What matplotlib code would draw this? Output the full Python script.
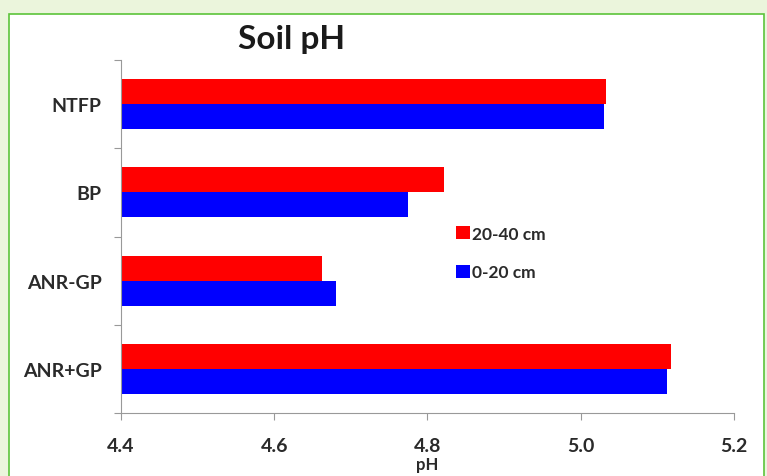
import matplotlib
matplotlib.use("Agg")
import matplotlib.pyplot as plt
from matplotlib.patches import Rectangle
import numpy as np

categories = ["ANR+GP", "ANR-GP", "BP", "NTFP"]
ph_20_40 = [5.118, 4.662, 4.822, 5.033]
ph_0_20 = [5.112, 4.680, 4.775, 5.030]
series_labels = ["20-40 cm", "0-20 cm"]
xticks = [4.4, 4.6, 4.8, 5.0, 5.2]
xtick_labels = ["4.4", "4.6", "4.8", "5.0", "5.2"]

plt.rcParams['font.family'] = ['Lato', 'DejaVu Sans']
txt = '#2a2a2a'

fig = plt.figure(figsize=(7.67, 4.77), dpi=100)
fig.patch.set_facecolor('#ebf5dc')
fig.patches.append(Rectangle((9/767, -0.1), (764-9)/767, 1 - 15/477 + 0.1,
                             transform=fig.transFigure, facecolor='white',
                             edgecolor='#5cc43a', linewidth=1.2, zorder=-10))

ax = fig.add_axes([121/767, 1 - 414/477, (734-121)/767, (414-61)/477])
ax.set_facecolor('none')
y = np.arange(len(categories))
h = 0.284
ax.barh(y + h/2, ph_20_40, height=h, color='#ff0000', label=series_labels[0])
ax.barh(y - h/2, ph_0_20, height=h, color='#0000ff', label=series_labels[1])

ax.set_xlim(4.4, 5.2)
ax.set_ylim(-0.5, len(categories) - 0.5)
ax.set_xticks(xticks)
ax.set_xticklabels(xtick_labels, fontweight='bold')
ax.set_yticks(np.arange(-0.5, len(categories), 1.0))
ax.set_yticklabels([])
ax.set_yticks(y, minor=True)
ax.set_yticklabels(categories, minor=True, fontweight='bold')
ax.tick_params(axis='y', which='minor', length=0, pad=14, labelsize=14, labelcolor=txt)
ax.tick_params(axis='y', which='major', length=5, color='#999999', direction='out')
ax.tick_params(axis='x', length=5, color='#999999', direction='out', labelsize=14, labelcolor=txt, pad=12)
for s in ['top', 'right']:
    ax.spines[s].set_visible(False)
for s in ['left', 'bottom']:
    ax.spines[s].set_color('#999999')
ax.set_xlabel('pH', fontsize=12, fontweight='bold', color=txt, labelpad=2)

fig.text(291/767, 1 - 40/477, 'Soil pH', fontsize=24, fontweight='bold', color='#1a1a1a',
         ha='center', va='center')

ax.legend(loc='upper left', bbox_to_anchor=(440/767, 1 - 211/477), bbox_transform=fig.transFigure,
          frameon=False, handlelength=0.8, handleheight=0.8, handletextpad=0.15,
          labelspacing=1.3, prop={'size': 12.5, 'weight': 'bold'}, labelcolor=txt)

fig.savefig('out.png', dpi=100, facecolor=fig.get_facecolor())
